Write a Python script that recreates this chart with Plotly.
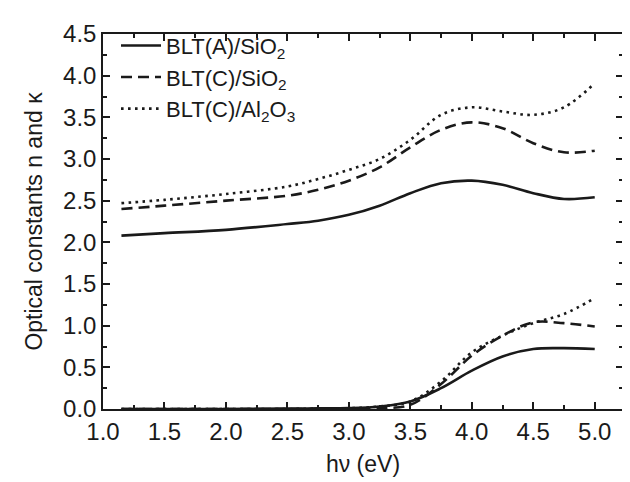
import plotly.graph_objects as go

# photon energy (eV)
energy = [1.15, 1.5, 2.0, 2.5, 2.75, 3.0, 3.25, 3.5, 3.75, 4.0, 4.25, 4.5, 4.75, 5.0]

# refractive index n
n_blt_a_sio2 = [2.08, 2.11, 2.15, 2.22, 2.26, 2.33, 2.44, 2.59, 2.71, 2.74, 2.69, 2.59, 2.52, 2.54]
n_blt_c_sio2 = [2.40, 2.44, 2.50, 2.56, 2.63, 2.74, 2.90, 3.14, 3.35, 3.44, 3.37, 3.19, 3.08, 3.10]
n_blt_c_al2o3 = [2.47, 2.51, 2.58, 2.67, 2.76, 2.87, 3.00, 3.23, 3.53, 3.62, 3.57, 3.53, 3.62, 3.91]

# extinction coefficient kappa
k_blt_a_sio2 = [0.0, 0.0, 0.0, 0.005, 0.007, 0.01, 0.03, 0.09, 0.25, 0.46, 0.63, 0.72, 0.73, 0.72]
k_blt_c_sio2 = [0.0, 0.0, 0.0, 0.0, 0.0, 0.0, 0.01, 0.05, 0.30, 0.64, 0.88, 1.04, 1.03, 0.99]
k_blt_c_al2o3 = [0.0, 0.0, 0.0, 0.0, 0.005, 0.01, 0.03, 0.09, 0.33, 0.68, 0.88, 1.03, 1.14, 1.33]

names = ["BLT(A)/SiO<sub>2</sub>", "BLT(C)/SiO<sub>2</sub>", "BLT(C)/Al<sub>2</sub>O<sub>3</sub>"]
dashes = ["solid", "11px,6px", "2.6px,4.4px"]
n_series = [n_blt_a_sio2, n_blt_c_sio2, n_blt_c_al2o3]
k_series = [k_blt_a_sio2, k_blt_c_sio2, k_blt_c_al2o3]

FONT = "Liberation Sans, Arial, Helvetica, sans-serif"
ink = "#1a1a1a"

fig = go.Figure()
for name, dash, ys in zip(names, dashes, n_series):
    fig.add_trace(go.Scatter(x=energy, y=ys, mode="lines", name=name,
                             line=dict(color=ink, width=2.6, dash=dash, shape="spline"),
                             legendgroup=name))
for name, dash, ys in zip(names, dashes, k_series):
    fig.add_trace(go.Scatter(x=energy, y=ys, mode="lines", name=name, showlegend=False,
                             line=dict(color=ink, width=2.6, dash=dash, shape="spline"),
                             legendgroup=name))

axis_common = dict(
    showline=True, linecolor=ink, linewidth=1.5, mirror="ticks",
    ticks="inside", ticklen=7, tickwidth=1.5, tickcolor=ink,
    showgrid=False, zeroline=False,
    tickfont=dict(family=FONT, size=24, color=ink),
    title_font=dict(family=FONT, size=23, color=ink),
)

fig.update_layout(
    width=630, height=482,
    margin=dict(l=95, r=15, t=18, b=81),
    paper_bgcolor="white", plot_bgcolor="white",
    font=dict(family=FONT, size=22, color=ink),
    legend=dict(x=0.025, y=1.025, xanchor="left", yanchor="top",
                bgcolor="rgba(0,0,0,0)", borderwidth=0,
                font=dict(family=FONT, size=22, color=ink),
                itemwidth=40, tracegroupgap=0),
    xaxis=dict(range=[1.0, 5.23], tickmode="linear", tick0=1.0, dtick=0.5,
               tickformat=".1f", title=dict(text="h\u03bd (eV)", standoff=12),
               minor=dict(ticks="inside", dtick=0.25, ticklen=4, tickwidth=1.5, tickcolor=ink),
               **axis_common),
    yaxis=dict(range=[0, 4.5], tickmode="linear", tick0=0, dtick=0.5,
               tickformat=".1f", title=dict(text="Optical constants n and \u03ba", standoff=14),
               minor=dict(ticks="inside", dtick=0.25, ticklen=4, tickwidth=1.5, tickcolor=ink),
               **axis_common),
)

fig.write_html("out.html")
